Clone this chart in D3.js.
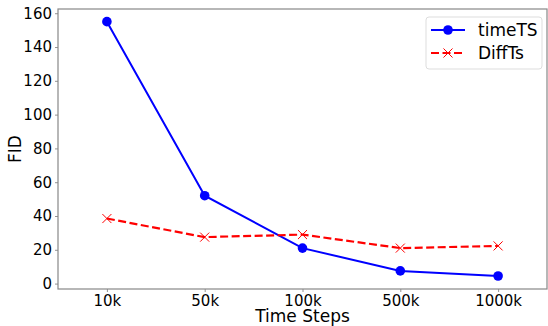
<!DOCTYPE html>
<meta charset="utf-8">
<script src="https://d3js.org/d3.v7.min.js"></script>
<style>
body { margin: 0; background: #fff; }
text { font-family: "DejaVu Sans", sans-serif; fill: #000; }
</style>
<div id="chart"></div>
<script>

// data
var steps = ["10k", "50k", "100k", "500k", "1000k"];
var timeTS = [155, 52, 21, 7.5, 4.5];
var diffTs = [38.5, 27.5, 29, 21, 22.3];
var yTicks = [0, 20, 40, 60, 80, 100, 120, 140, 160];

var W = 548, H = 326;
var margin = {top: 9, right: 1, bottom: 37, left: 58},
    width = W - margin.left - margin.right,
    height = H - margin.top - margin.bottom;

var svg = d3.select("#chart").append("svg")
    .attr("width", W).attr("height", H)
  .append("g")
    .attr("transform", "translate(" + margin.left + "," + margin.top + ")");

var x = d3.scalePoint().domain(steps).range([0, width]).padding(0.5);
var y = d3.scaleLinear().domain([-3.2, 162.5]).range([height, 0]);

// axes
var xAxis = svg.append("g")
    .attr("transform", "translate(0," + height + ")")
    .call(d3.axisBottom(x).tickSize(3).tickPadding(3));
var yAxis = svg.append("g")
    .call(d3.axisLeft(y).tickValues(yTicks).tickSize(3).tickPadding(3));

[xAxis, yAxis].forEach(function(a) {
  a.select(".domain").remove();
  a.selectAll("line").attr("stroke", "#777").attr("stroke-width", 0.8);
  a.selectAll("text").style("font-size", "15px").attr("fill", "#111");
});

// frame
svg.append("rect")
    .attr("width", width).attr("height", height)
    .attr("fill", "none").attr("stroke", "#888").attr("stroke-width", 1.2);

svg.append("text")
    .attr("x", width / 2).attr("y", height + 33)
    .attr("text-anchor", "middle")
    .style("font-size", "17px")
    .text("Time Steps");

svg.append("text")
    .attr("transform", "translate(-37," + (height / 2) + ") rotate(-90)")
    .attr("text-anchor", "middle")
    .style("font-size", "17px")
    .text("FID");

var line = d3.line()
    .x(function(d, i) { return x(steps[i]); })
    .y(function(d) { return y(d); });

// timeTS
svg.append("path").datum(timeTS)
    .attr("d", line)
    .attr("fill", "none").attr("stroke", "#0000ff").attr("stroke-width", 2);
svg.selectAll(".dot").data(timeTS).enter().append("circle")
    .attr("cx", function(d, i) { return x(steps[i]); })
    .attr("cy", function(d) { return y(d); })
    .attr("r", 4.8)
    .attr("fill", "#0000ff");

// DiffTs
svg.append("path").datum(diffTs)
    .attr("d", line)
    .attr("fill", "none").attr("stroke", "#ff0000").attr("stroke-width", 2.2)
    .attr("stroke-dasharray", "8,3.5");
var cross = d3.symbol().type(d3.symbolX).size(55);
svg.selectAll(".cross").data(diffTs).enter().append("path")
    .attr("d", cross)
    .attr("transform", function(d, i) { return "translate(" + x(steps[i]) + "," + y(d) + ")"; })
    .attr("fill", "none").attr("stroke", "#ff0000").attr("stroke-width", 1);

// legend
var lg = svg.append("g").attr("transform", "translate(" + (width - 121) + ",8)");
lg.append("rect")
    .attr("width", 116).attr("height", 52).attr("rx", 3)
    .attr("fill", "#fff").attr("stroke", "#ddd");
lg.append("line").attr("x1", 5).attr("x2", 39).attr("y1", 13).attr("y2", 13)
    .attr("stroke", "#0000ff").attr("stroke-width", 2);
lg.append("circle").attr("cx", 22).attr("cy", 13).attr("r", 4.8).attr("fill", "#0000ff");
lg.append("text").attr("x", 52).attr("y", 19).style("font-size", "17px").text("timeTS");
lg.append("line").attr("x1", 5).attr("x2", 39).attr("y1", 36).attr("y2", 36)
    .attr("stroke", "#ff0000").attr("stroke-width", 2.2).attr("stroke-dasharray", "8,3.5");
lg.append("path").attr("d", cross).attr("transform", "translate(22,36)")
    .attr("fill", "none").attr("stroke", "#ff0000").attr("stroke-width", 1);
lg.append("text").attr("x", 52).attr("y", 42).style("font-size", "17px").text("DiffTs");

</script>
